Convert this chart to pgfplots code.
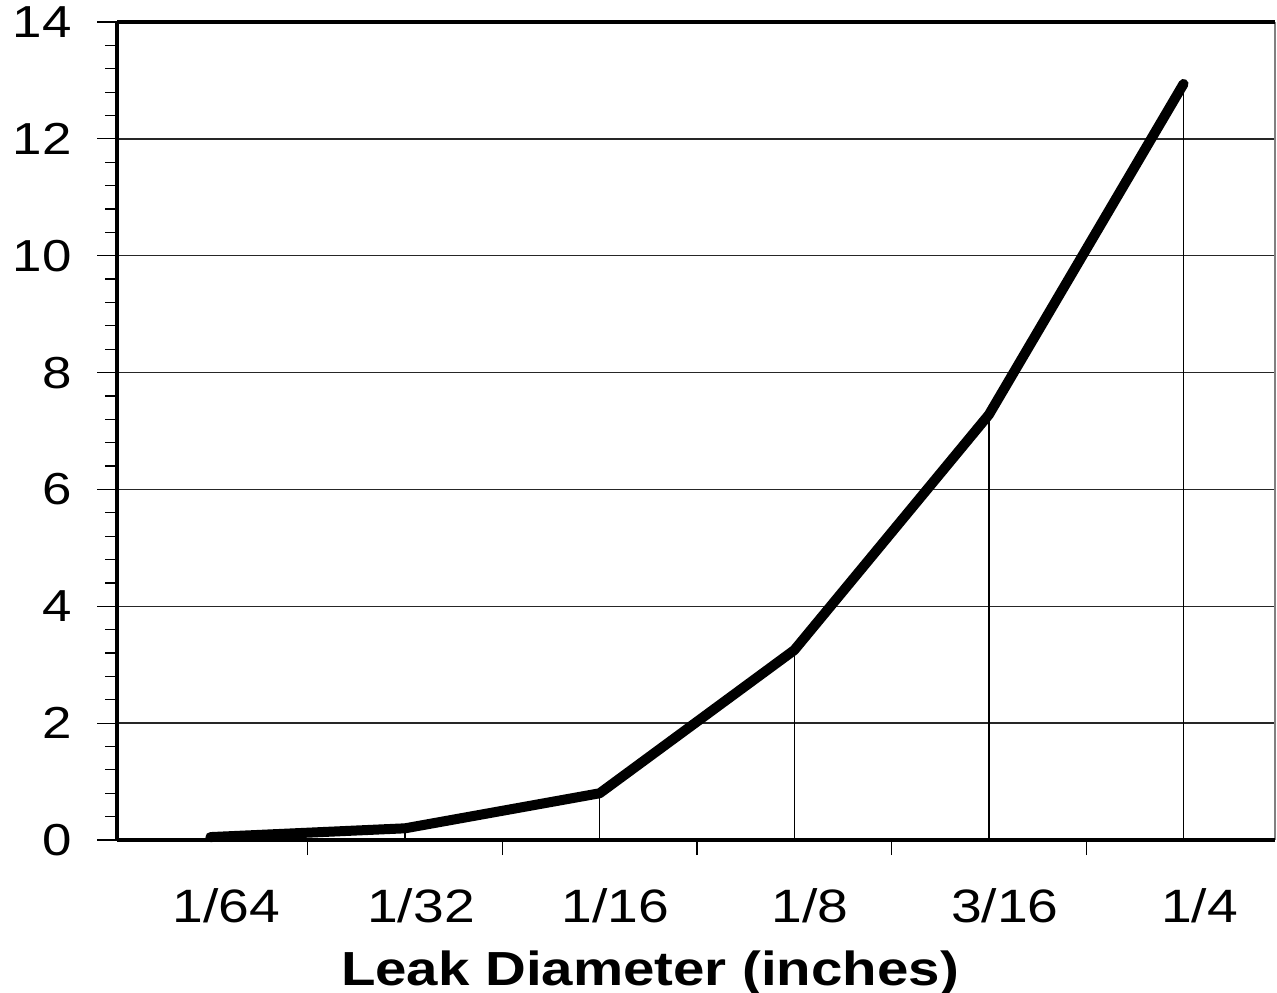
\documentclass[border=0pt]{standalone}
\usepackage{fontspec}
\setmainfont{Liberation Sans}[FakeStretch=1.18]
\usepackage{pgfplots}
\pgfplotsset{compat=1.18}
\begin{document}
\begin{tikzpicture}
\begin{axis}[
  scale only axis, width=579bp, height=409bp,
  xmin=-0.48, xmax=5.47, ymin=0, ymax=14,
  axis line style={draw=none},
  clip=false,
  xtick pos=bottom, ytick pos=left,
  xtick={0,1,2,3,4,5},
  xticklabels={1/64,1/32,1/16,1/8,3/16,1/4},
  major x tick style={draw=none},
  extra x ticks={0.5,1.5,2.5,3.5,4.5},
  extra x tick labels={},
  extra x tick style={major tick length=7.5bp, major x tick style={draw=black, line width=0.6bp}},
  ytick={0,2,...,14},
  minor y tick num=4,
  tick align=outside,
  major tick length=10bp, minor tick length=6bp,
  y tick style={black, line width=0.6bp},
  ymajorgrids, grid style={black!85, line width=0.7bp},
  /pgf/number format/assume math mode=true,
  yticklabel style={anchor=east, inner sep=0pt, xshift=-12.5bp, font=\fontsize{22.5}{26}\selectfont},
  xticklabel style={anchor=base, inner sep=0pt, xshift=8bp, yshift=-31bp, font=\fontsize{23.5}{27}\selectfont},
  xlabel={Leak Diameter (inches)},
  xlabel style={at={(axis description cs:0.4603,0)}, anchor=base, inner sep=0pt, yshift=-72.5bp, font=\fontsize{24}{28}\selectfont\bfseries},
]
\addplot[ycomb, black, line width=0.7bp, mark=none] coordinates {
  (0,0.05) (1,0.2) (2,0.8) (3,3.25) (4,7.28) (5,12.94)
};
\addplot[black, line width=5bp, line join=round, line cap=round, mark=none] coordinates {
  (0,0.05) (1,0.2) (2,0.8) (3,3.25) (4,7.28) (5,12.94)
};
\draw[gray, line width=0.6bp] (rel axis cs:1,0) -- (rel axis cs:1,1);
\draw[black, line width=1.6bp] (rel axis cs:1,1) -- (rel axis cs:0,1);
\draw[black, line width=2bp] (rel axis cs:0,1) -- (rel axis cs:0,0);
\draw[black, line width=1.8bp] (rel axis cs:0,0) -- (rel axis cs:1,0);
\coordinate (sw) at (rel axis cs:0,0);
\coordinate (ne) at (rel axis cs:1,1);
\end{axis}
\pgfresetboundingbox
\path[use as bounding box] ([shift={(-58.5bp,-76.5bp)}]sw) rectangle ([shift={(1bp,11bp)}]ne);
\end{tikzpicture}
\end{document}
